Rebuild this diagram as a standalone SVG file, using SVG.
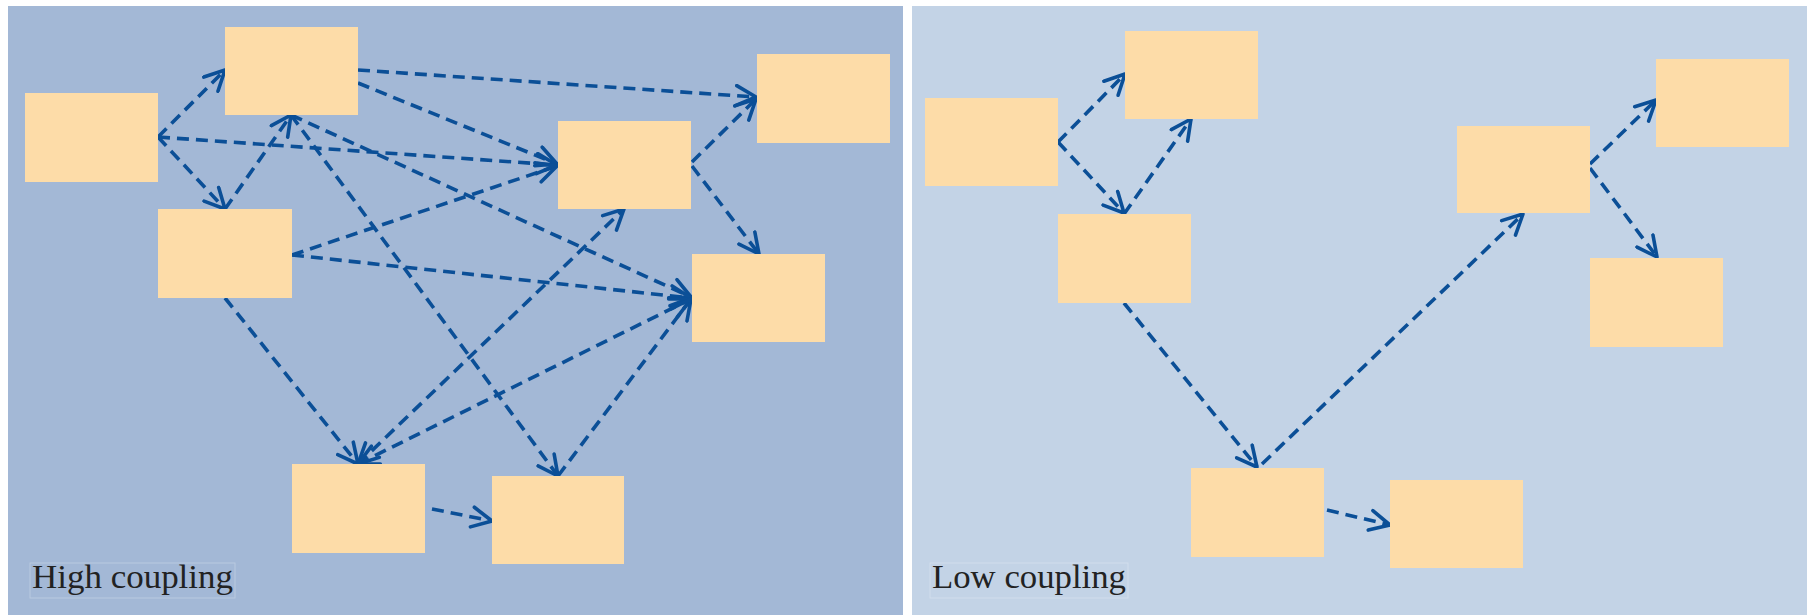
<svg xmlns="http://www.w3.org/2000/svg" width="1808" height="615" viewBox="0 0 1808 615">
<style>
.panelL{fill:#a3b8d6}
.panelR{fill:#c3d3e6}
.node{fill:#fddca8}
.edge{fill:none;stroke:#0b4f97;stroke-width:3.6;stroke-dasharray:12 7;marker-end:url(#arr)}
.bi{marker-start:url(#arr)}
.lbl{font-family:"Liberation Serif",serif;font-size:33px;fill:#222}
.lblbox{fill:none;stroke:#ffffff;stroke-opacity:0.25;stroke-width:1}
</style>
<defs>
<marker id="arr" viewBox="0 0 24 24" refX="22" refY="12" markerWidth="24" markerHeight="24" markerUnits="userSpaceOnUse" orient="auto-start-reverse">
<path d="M2,2 L22,12 L2,22" fill="none" stroke="#0b4f97" stroke-width="3.6" stroke-dasharray="none" stroke-linecap="round" stroke-linejoin="round"/>
</marker>
</defs>
<rect width="1808" height="615" fill="#ffffff"/>
<rect class="panelL" x="8" y="6" width="895" height="609"/>
<rect class="panelR" x="912" y="6" width="895" height="609"/>

<g id="connectors">
<path class="edge" d="M158,137 L225,70"/>
<path class="edge" d="M158,137 L225,209"/>
<path class="edge" d="M158,137 L557,165"/>
<path class="edge" d="M225,209 L291,115"/>
<path class="edge" d="M358,70 L756,97"/>
<path class="edge" d="M358,83 L557,164"/>
<path class="edge" d="M291,115 L691,297"/>
<path class="edge" d="M291,115 L558,476"/>
<path class="edge" d="M292,255 L557,166"/>
<path class="edge" d="M292,255 L691,298"/>
<path class="edge" d="M225,298 L358,464"/>
<path class="edge bi" d="M358,464 L624,209"/>
<path class="edge bi" d="M358,464 L691,299"/>
<path class="edge" d="M558,476 L691,299"/>
<path class="edge" d="M432,509 L492,521"/>
<path class="edge" d="M692,162 L756,99"/>
<path class="edge" d="M692,166 L759,254"/>

<path class="edge" d="M1058,142 L1125,74"/>
<path class="edge" d="M1058,142 L1124,213"/>
<path class="edge" d="M1124,214 L1191,119"/>
<path class="edge" d="M1124,303 L1257,467"/>
<path class="edge" d="M1262,464 L1523,214"/>
<path class="edge" d="M1590,164 L1656,100"/>
<path class="edge" d="M1590,168 L1657,257"/>
<path class="edge" d="M1327,510 L1390,525"/>
</g>

<g id="hA"><rect class="node" x="25" y="93" width="133" height="89"/></g>
<g id="hB"><rect class="node" x="225" y="27" width="133" height="88"/></g>
<g id="hC"><rect class="node" x="158" y="209" width="134" height="89"/></g>
<g id="hD"><rect class="node" x="757" y="54" width="133" height="89"/></g>
<g id="hE"><rect class="node" x="558" y="121" width="133" height="88"/></g>
<g id="hF"><rect class="node" x="692" y="254" width="133" height="88"/></g>
<g id="hG"><rect class="node" x="292" y="464" width="133" height="89"/></g>
<g id="hH"><rect class="node" x="492" y="476" width="132" height="88"/></g>

<g id="lA"><rect class="node" x="925" y="98" width="133" height="88"/></g>
<g id="lB"><rect class="node" x="1125" y="31" width="133" height="88"/></g>
<g id="lC"><rect class="node" x="1058" y="214" width="133" height="89"/></g>
<g id="lD"><rect class="node" x="1656" y="59" width="133" height="88"/></g>
<g id="lE"><rect class="node" x="1457" y="126" width="133" height="87"/></g>
<g id="lF"><rect class="node" x="1590" y="258" width="133" height="89"/></g>
<g id="lG"><rect class="node" x="1191" y="468" width="133" height="89"/></g>
<g id="lH"><rect class="node" x="1390" y="480" width="133" height="88"/></g>

<g id="labelHigh">
<rect class="lblbox" x="30" y="563" width="205" height="35"/>
<text class="lbl" x="32" y="588" textLength="201" lengthAdjust="spacingAndGlyphs">High coupling</text>
</g>
<g id="labelLow">
<rect class="lblbox" x="930" y="563" width="198" height="35"/>
<text class="lbl" x="932" y="588" textLength="194" lengthAdjust="spacingAndGlyphs">Low coupling</text>
</g>
</svg>
